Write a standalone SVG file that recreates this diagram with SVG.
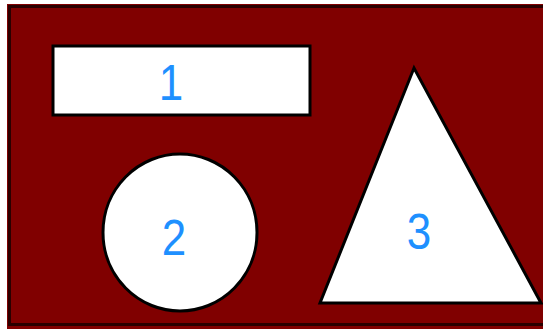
<svg xmlns="http://www.w3.org/2000/svg" width="543" height="329" viewBox="0 0 543 329">
<style>
.shape{fill:#ffffff;stroke:#000000;stroke-width:3}
.lbl{font-family:"Liberation Sans",Arial,sans-serif;font-size:50px;fill:#1e90ff;text-anchor:middle}
</style>
<rect x="0" y="0" width="543" height="329" fill="#ffffff"/>
<rect x="7" y="4" width="540" height="330" fill="#800000"/>
<rect x="9.5" y="6.5" width="540" height="318" fill="none" stroke="#2a0000" stroke-width="3"/>
<g id="node1">
<rect class="shape" x="53" y="46" width="257" height="69"/>
<text class="lbl" x="171" y="100" transform="translate(171 0) scale(0.88 1) translate(-171 0)">1</text>
</g>
<g id="node2">
<ellipse class="shape" cx="180" cy="232.5" rx="77" ry="78.5"/>
<text class="lbl" x="174" y="255" transform="translate(174 0) scale(0.88 1) translate(-174 0)">2</text>
</g>
<g id="node3">
<polygon class="shape" points="414,68 320,303 541,303"/>
<text class="lbl" x="419" y="249" transform="translate(419 0) scale(0.88 1) translate(-419 0)">3</text>
</g>
<g id="connectors"></g>
</svg>
